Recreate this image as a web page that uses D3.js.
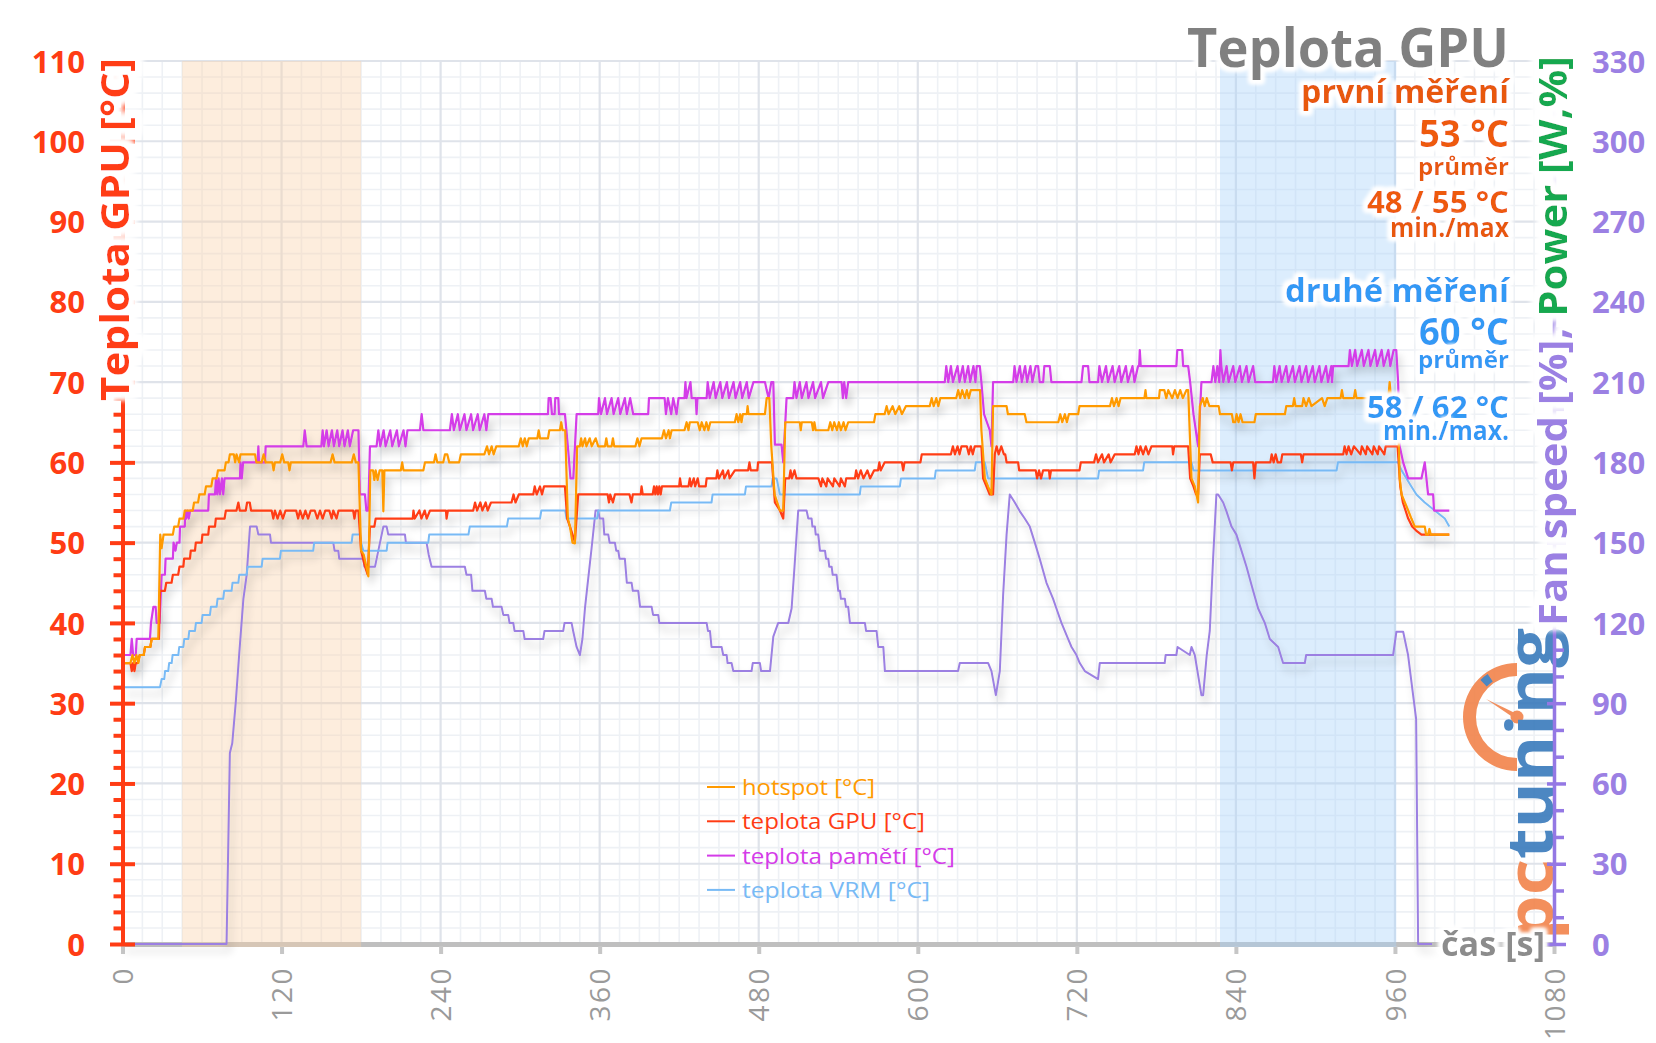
<!DOCTYPE html>
<html><head><meta charset="utf-8">
<script src="https://cdn.jsdelivr.net/npm/d3@7"></script>
<style>
body{margin:0;background:#fff}
svg{display:block}
text{font-family:"Open Sans","Noto Sans",sans-serif}
</style>
</head><body>
<svg id="c" width="1656" height="1043"></svg>
<script>
// ---------------- DATA ----------------
const xTicks = [0,120,240,360,480,600,720,840,960,1080];
const leftTicks = [0,10,20,30,40,50,60,70,80,90,100,110];
const rightTicks = [0,30,60,90,120,150,180,210,240,270,300,330];
const bandFirst = [45,180];
const bandSecond = [828,961];
const seriesNames = ["hotspot [°C]","teplota GPU [°C]","teplota pamětí [°C]","teplota VRM [°C]"];

const hotspot = [[0,35],[6,35],[7.5,36],[9,35],[10.5,36],[12,35],[13,36],[16,36],[17,37],[21,37],[22,38],[27,38],[28.5,51],[29.5,49.3],[31,51],[38,51],[39,52],[42,52],[43,53],[46,53],[47,54],[53,54],[54,55],[57,55],[58,56],[62,56],[63,57],[67,57],[68,58],[71,58],[72,59],[77,59],[78,60],[80,60],[81,61],[84,61],[85,60],[86,61],[88,60],[89,61],[100,61],[101,60],[105,60],[106.5,61],[108,60],[113,60],[114,59],[115,60],[119,60],[120.5,61],[122,60],[125,60],[126,59],[127,60],[157,60],[158.5,61],[160,60],[173,60],[174.5,61],[176,60],[178,60],[180,49],[182,48.5],[184,47],[185.5,45.8],[187,59],[189,59],[190,57.8],[191,59],[192.5,57.8],[194,59],[196,59],[196.8,53.9],[197.6,59],[210,59],[211,60],[212,59],[227,59],[228.2,60],[235,60],[236.2,61],[237.5,60],[242,60],[243.3,61],[245,61],[246.5,60],[254,60],[255.3,61],[273,61],[275,62],[276.5,61],[278.5,62],[280,61],[282,62],[299,62],[300.5,63],[302,62],[303.5,63],[305,62],[306.5,63],[313,63],[314,64],[315,63],[321,63],[322,64],[330,64],[331,65],[332,64],[334,64],[336,53],[337.6,52],[339.5,50],[341.3,49.9],[343,62],[345,62],[346,63],[347,62],[349,63],[350,62],[352.5,63],[354,62],[357,63],[358.9,62],[364,62],[365,63],[366,62],[369,62],[370,63],[371,62],[387,62],[388.5,63],[390,62],[391.6,63],[407,63],[408.5,64],[410,63],[412,64],[413,63],[414.3,64],[424,64],[425.6,65],[427,64],[428,65],[434,65],[435.5,64],[437,65],[439,64],[440.5,65],[442,64],[443.5,65],[462,65],[463.3,66],[464.6,65],[466,66],[467,65],[468,66],[471,66],[471.6,67],[472.3,66],[484.7,66],[486,68],[488,68],[489.5,62],[492,56],[494,55],[496,54],[498.5,54],[500,65],[511,65],[511.7,64],[512.5,65],[520,65],[521,64],[522,65],[523,64],[532.5,64],[534,65],[535.5,64],[537,65],[539,64],[540.5,65],[542,64],[544,65],[545.5,64],[547.5,65],[567,65],[568,66],[575,66],[576.5,67],[578,66],[581,67],[583,66],[586,67],[588,66],[591,67],[609,67],[610.5,68],[612,67],[614,68],[615.5,67],[617,68],[629,68],[630.5,69],[632,68],[633.5,69],[635.5,68],[637,69],[638.5,68],[640,69],[647,69],[648,64],[650.6,58],[653,57],[655.6,56],[656.8,67],[667,67],[668,66],[680.7,66],[682,65],[706,65],[707.5,66],[709,65],[711,66],[712.5,65],[714,66],[721,66],[722,67],[745,67],[746.5,68],[748,67],[750,68],[751.5,67],[753,68],[771,68],[771.8,69],[772.5,68],[782,68],[782.6,69],[786,69],[787.5,68],[789,69],[792,68],[794,69],[796,68],[798,69],[800,68],[802.7,69],[804,69],[806.5,58],[809,57],[811.5,55],[812.8,67],[815,68],[816.5,67],[818,68],[820,67],[827,67],[828,66],[837,66],[838,65],[839.5,65],[840.5,66],[842,65],[843.5,66],[845,65],[854,65],[855,66],[877,66],[878,67],[883,67],[884,68],[885,67],[890,67],[891,68],[893,67],[895,68],[897,67],[905,68],[907,67],[909,68],[919,68],[920,69],[921,68],[929,68],[930,69],[931,68],[955,68],[956,70],[957,68],[962,68],[963.6,58],[965,56],[970,54],[972.4,53],[975,52],[982.5,52],[983.5,51],[985,51],[986,51.7],[987,51],[1001,51]];

const gpu = [[0,35],[6,35],[7,34],[8,35],[9,34],[10,35],[11.5,35],[13,36],[16,36],[17,37],[21,37],[22,38],[27.5,38],[28.3,44],[32,44],[33,45],[37,45],[38,46],[42,46],[43,47],[45.9,47],[46.5,48],[50.9,48],[51.5,49],[54.7,49],[55.3,50],[59.7,50],[60.3,51],[64.7,51],[65.3,52],[69.8,52],[70.4,53],[77,53],[78,54],[86,54],[87.4,55],[88.5,54],[93,54],[94,55],[96,55],[97,54],[112.5,54],[113.8,53],[115,54],[117,53],[119,54],[121,53],[123,54],[131,54],[132.5,53],[134,54],[136,53],[138,54],[140,53],[142,54],[145,54],[147,53],[149,54],[151,53],[153,54],[156,54],[157.8,53],[159,54],[161.5,53],[163,54],[174,54],[175,53],[176,54],[178,54],[180,49],[183,47],[185,46],[186.7,52],[190,52],[191,53],[219,53],[219.5,54],[220.5,53],[224,54],[225.5,53],[228,54],[229.5,53],[232,54],[244,54],[244.5,53],[245.5,54],[264.6,54],[266,55],[267.5,54],[270,55],[271.5,54],[274,55],[275.5,54],[278,55],[293.5,55],[295,56],[296.5,55],[299,56],[309.9,56],[311,57],[312.5,56],[315,57],[316.5,56],[318,57],[333.8,57],[335.5,53],[337.6,52],[341.3,50.1],[343.8,56],[366,56],[367,55],[368,56],[370,55],[371.5,56],[382.5,56],[384,55],[385,56],[391,56],[391.6,57],[392.5,56],[400,56],[401,57],[402,56],[403,57],[404,56],[405,57],[406,56],[407,57],[420,57],[420.6,58],[421.5,57],[427,57],[428,58],[429,57],[431,58],[432,57],[434,58],[435,57],[440,57],[440.7,58],[448,58],[448.8,59],[450,58],[453,59],[454,58],[457,59],[458,58],[462,59],[472,59],[473,60],[474,59],[479,59],[479.5,60],[490,60],[492.2,55],[496,54],[498.5,53],[500,58],[503,58],[504,59],[505,58],[507,59],[508.5,58],[525,58],[527,57],[528,58],[531,57],[532,58],[536,57],[537,58],[541,57],[542,58],[545,57],[546,58],[552.6,58],[553.5,59],[555,58],[557,59],[559,58],[562,59],[564,58],[567,59],[570,59],[571,60],[572,59],[575,60],[588,60],[589,59],[590,60],[602,60],[603,61],[625,61],[626.5,62],[628,61],[630,62],[631.5,61],[633,62],[637,62],[638.5,61],[640,62],[641.5,61],[643,62],[648,62],[649.3,58],[651.8,57],[654.3,56],[656.8,56],[658.1,61],[659.5,62],[661,61],[663,62],[665,61],[666,61],[667,60],[675.7,60],[676.5,59],[689,59],[690,58],[691.5,59],[693,58],[694.5,59],[699,59],[699.6,58],[700.5,59],[722,59],[723,60],[733,60],[734.5,61],[736,60],[739,61],[740.5,60],[744,61],[745.5,60],[748.6,61],[763.7,61],[765,62],[766.5,61],[768,62],[770,61],[772,62],[774,61],[776.3,62],[792,62],[792.6,61],[793.5,62],[804,62],[805.5,58],[808,57],[810,56],[811.5,56],[812.8,61],[821,61],[822.5,60],[836,60],[837,59],[838,60],[853,60],[854,58],[855,60],[866,60],[867,61],[868.5,60],[870,61],[871.5,60],[874,60],[875,61],[889,61],[890,60],[891,61],[921,61],[922,62],[923.5,61],[925,62],[927,61],[929,62],[934,61],[935,62],[938,61],[939,62],[943,61],[944,62],[947,61],[948,62],[952,61],[953,62],[962,62],[964,57],[966,55],[968,54],[970,53],[973,52],[976,51.5],[980,51],[1001,51]];

const memory = [[0,36],[6,36],[7,38],[8,36],[10,36],[10.7,38],[20.7,38],[21.5,40],[23.3,42],[25,42],[25.8,40],[28,40],[29.5,46],[32,46],[32.5,48],[38,48],[38.5,50],[40,49],[41,50],[43,50],[43.4,52],[47,52],[47.3,54],[48,53],[49,54],[50,53],[51,54],[64.7,54],[65.2,56],[69.8,56],[70.5,58],[71.5,56],[72.5,58],[73.5,56],[75,58],[76,56],[77,58],[88.6,58],[89,60],[90,58],[91,60],[102,60],[102.5,62],[103,60],[107.5,60],[108,62],[136.4,62],[137.5,64],[138.9,62],[150,62],[151,64],[152,62],[154,64],[155.5,62],[158,64],[159.5,62],[162,64],[163.5,62],[166,64],[167.5,62],[170,64],[171.5,62],[174,64],[178,64],[179.1,56],[182.9,56],[184,54],[185.4,54],[186.7,62],[191.7,62],[193,64],[194.5,62],[197,64],[198.5,62],[202,64],[203.5,62],[207,64],[208.5,62],[212,64],[213.5,62],[215,64],[224.4,64],[225.7,66],[227,64],[247,64],[248.5,66],[250,64],[253,66],[254.5,64],[258,66],[259.5,64],[263,66],[264.5,64],[268,66],[269.5,64],[273,66],[274.5,64],[276,66],[321,66],[321.5,68],[323,68],[324,66],[326,66],[326.5,68],[328.8,68],[329.3,66],[333.8,66],[336,62],[338,58],[340.1,58],[342.6,66],[358.9,66],[359.5,68],[361,66],[364,68],[365.5,66],[369,68],[370.5,66],[374,68],[375.5,66],[379,68],[380.5,66],[383,68],[385.3,66],[396.6,66],[397.2,68],[409,68],[410,66],[411.5,68],[414,66],[415.5,68],[418,66],[419.5,68],[424,68],[424.7,70],[425.5,68],[428.5,70],[429.4,68],[432.5,68],[433.1,66],[433.8,68],[440.7,68],[441.5,70],[443,68],[446,70],[447.5,68],[451,70],[452.5,68],[456,70],[457.5,68],[461,70],[462.5,68],[466,70],[467.5,68],[471,70],[472.5,68],[476,70],[484.7,70],[486,69],[487.5,68],[489.5,70],[491,70],[492.2,62.2],[497.2,62.2],[498.5,60],[501,68],[506,68],[507,70],[508.5,68],[511,70],[512.5,68],[516,70],[517.5,68],[521,70],[522.5,68],[527,70],[528.5,68],[532.5,70],[542.5,70],[543.5,68],[544.5,70],[546,68],[547.5,70],[620.4,70],[621.5,72],[623,70],[625,72],[626.5,70],[630,72],[631.5,70],[634,72],[635.5,70],[638,72],[639.5,70],[642,72],[643.5,70],[644.5,72],[646.8,72],[648,70],[650,66],[654.3,64],[655.6,62],[656.8,70],[672,70],[673,72],[674.5,70],[677,72],[678.5,70],[681,72],[682.5,70],[685,72],[686.5,70],[689,72],[690.8,72],[692,70],[694.6,70],[695.5,72],[699.6,72],[700.8,70],[723.5,70],[724.7,72],[728.5,72],[729.5,70],[736,70],[737,72],[739,70],[742,72],[743.5,70],[747,72],[748.5,70],[752,72],[753.5,70],[757,72],[758.5,70],[762,72],[763.5,70],[766.2,72],[767,72],[767.5,74],[768.2,72],[795.1,72],[795.8,74],[799.5,74],[800.2,72],[804,72],[805.5,70],[808,66],[811.5,62],[812.8,66],[814,70],[821.6,70],[823,72],[824.5,70],[826,72],[827.5,70],[828.3,74],[829,72],[830.5,70],[833,72],[834.5,70],[838,72],[839.5,70],[843,72],[844.5,70],[848,72],[849.5,70],[853,72],[854.5,70],[857.5,70],[868,70],[869,72],[870.5,70],[873,72],[874.5,70],[878,72],[879.5,70],[883,72],[884.5,70],[888,72],[889.5,70],[893,72],[894.5,70],[898,72],[899.5,70],[903,72],[904.5,70],[908,72],[909.5,70],[912,72],[912.5,70],[913.4,72],[925,72],[926,74],[927.5,72],[930,74],[931.5,72],[935,74],[936.5,72],[940,74],[941.5,72],[945,74],[946.5,72],[950,74],[951.5,72],[955,74],[956.5,72],[959,74],[961,74],[962.4,70],[963.6,62],[966.2,60],[970,58],[980,58],[982.5,60],[985,56],[988.8,56],[989.5,54],[1001,54]];

const vrm = [[0,32],[28.3,32],[29.5,33],[31.5,33],[32.1,34],[34.5,34],[35.2,35],[37.1,35],[37.8,36],[42.1,36],[42.8,37],[45.9,37],[46.6,38],[49.7,38],[50.4,39],[54.7,39],[55.4,40],[59.7,40],[60.4,41],[66,41],[66.7,42],[71,42],[71.7,43],[76,43],[76.7,44],[82.3,44],[83,45],[87.4,45],[88.1,46],[93.7,46],[94.4,47],[105,47],[105.7,48],[118.8,48],[119.5,49],[143.9,49],[144.6,50],[172.9,50],[173.6,51],[179.1,51],[180,50],[181.7,49],[199.3,49],[200,50],[230.7,50],[231.4,51],[261,51],[262,52],[290,52],[291,53],[315,53],[316,54],[334,54],[335,53],[358,53],[359,54],[413,54],[414,55],[444.4,55],[445.2,56],[469.6,56],[470.4,57],[489.7,57],[490.5,58],[493.5,58],[496,56],[556.3,56],[557,57],[586.5,57],[587.3,58],[612.8,58],[613.6,59],[643,59],[643.8,60],[650.6,60],[653,58],[736,58],[736.8,59],[770,59],[770.8,60],[806.5,60],[808,59],[916,59],[917,60],[962.4,60],[965,59],[968.7,58],[972.4,57],[976.2,56],[982.5,55],[990,54],[997.6,53],[1001,52]];

const fan = [[0,0],[78.5,0],[81,23.8],[82.8,25],[85.4,30],[88,36],[91.2,43],[93.7,46],[96.2,52],[101.2,52],[102.5,51],[111.3,51],[112,50],[159,50],[160,49],[162.8,49],[163.5,48],[181.7,48],[182.5,47],[190.5,47],[193,49],[196.8,52],[199.3,52],[200.5,51],[213.1,51],[213.8,50],[229.4,50],[231,48.5],[233.2,47],[258.3,47],[259.5,46],[263,46],[264,44],[273.4,44],[274.5,43],[278.5,43],[279.5,42],[286,42],[287.3,41],[291,41],[292,40],[294.8,40],[295.8,39],[302.4,39],[303.4,38],[317.4,38],[318.4,39],[332.5,39],[333.5,40],[338.8,40],[340,39],[342.6,37],[345.1,36],[347,38],[348.9,41.8],[351,45],[353.9,49.3],[356.9,54],[358.9,54],[360,53],[362.7,53],[363.5,51],[366.5,51],[367.5,50],[371.5,50],[372.5,49],[374,49],[375,48],[379,48],[380.5,45],[384.1,45],[385,44],[389.1,44],[390.5,42],[399.2,42],[400.3,41],[404.2,41],[405,40],[440.7,40],[441.7,39],[443.2,39],[444.4,37],[452,37],[453.2,36],[455.8,36],[456.5,35],[459.5,35],[460.8,34],[474.6,34],[475.5,35],[480.9,35],[481.8,34],[488.5,34],[491,38.3],[494.7,40],[502.3,40],[504.8,41.8],[507,47],[509.8,54],[516.1,54],[517.4,53],[519.9,53],[520.5,52],[522.4,52],[523,51],[524.9,51],[526.2,49],[530,49],[530.8,48],[532.5,48],[533.2,47],[535,47],[535.8,46],[538.7,46],[540,44],[541.3,44],[542,43],[545,43],[545.8,42],[547.5,42],[548.8,40],[560.1,40],[561,39],[568.9,39],[570.2,37],[574,37],[574.8,35],[575.2,34],[630.4,34],[631.7,35],[653.1,35],[655.6,34],[658.9,31],[661.9,34],[664.4,43.5],[667,51],[669.4,56],[673.2,55],[677,53.9],[680.7,53],[684.5,52],[688.3,50],[692,48],[697.1,45],[702.1,43],[704.6,41.8],[708.4,40],[713.4,38],[716,37],[719.7,36],[722.2,35],[726,34],[736,33],[737.3,35],[786.3,35],[787,36],[795.1,36],[796,37],[805.2,36],[806.5,37],[809,36],[812,33],[814,31],[815.3,31],[818,36],[820.3,39],[822.8,48],[825.3,56],[826.6,56],[830.4,55],[832.9,53.9],[836.7,52],[840.4,51],[844.2,49],[848,47],[853,44],[856.8,41.8],[861.8,40],[865.6,38],[871.9,37],[875.6,35],[892,35],[893,36],[958.6,36],[961.1,38.9],[966.2,38.9],[969.9,36],[973.7,31],[976,28],[977.5,0],[988,0]];

// ---------------- CHART ----------------
const W=1656,H=1043;
const svg=d3.select('#c');
const x=d3.scaleLinear().domain([0,1080]).range([122.5,1554]);
const y=d3.scaleLinear().domain([0,110]).range([944,61]);
const yR=d3.scaleLinear().domain([0,330]).range([944,61]);
const FONT='"Open Sans","Noto Sans",sans-serif';

const defs=svg.append('defs');
const sh=defs.append('filter').attr('id','shadow').attr('filterUnits','userSpaceOnUse')
  .attr('x',0).attr('y',0).attr('width',W).attr('height',H);
sh.append('feGaussianBlur').attr('in','SourceAlpha').attr('stdDeviation',4).attr('result','b');
sh.append('feOffset').attr('in','b').attr('dx',3).attr('dy',7).attr('result','o');
sh.append('feComponentTransfer').attr('in','o').attr('result','s')
  .append('feFuncA').attr('type','linear').attr('slope',0.22);
let mg=sh.append('feMerge'); mg.append('feMergeNode').attr('in','s'); mg.append('feMergeNode').attr('in','SourceGraphic');

function makeGlow(id,r,sd){
  const g=defs.append('filter').attr('id',id).attr('x','-20%').attr('y','-40%').attr('width','140%').attr('height','180%');
  g.append('feMorphology').attr('in','SourceAlpha').attr('operator','dilate').attr('radius',r).attr('result','d');
  g.append('feGaussianBlur').attr('in','d').attr('stdDeviation',sd).attr('result','bd');
  g.append('feFlood').attr('flood-color','#ffffff').attr('result','f');
  g.append('feComposite').attr('in','f').attr('in2','bd').attr('operator','in').attr('result','g');
  const m=g.append('feMerge'); m.append('feMergeNode').attr('in','g'); m.append('feMergeNode').attr('in','g');
  m.append('feMergeNode').attr('in','g'); m.append('feMergeNode').attr('in','SourceGraphic');
}
makeGlow('glow',2.5,2);
makeGlow('glowBig',6,3);

// grid
const grid=svg.append('g');
const minorY=d3.range(0,111,2).filter(v=>v%10);
const minorX=d3.range(0,1081,15).filter(t=>t%120);
grid.selectAll('.mny').data(minorY).join('line')
  .attr('x1',x(0)).attr('x2',x(1080)).attr('y1',d=>y(d)).attr('y2',d=>y(d))
  .attr('stroke','#eef1f5').attr('stroke-width',1.6);
grid.selectAll('.mnx').data(minorX).join('line')
  .attr('x1',d=>x(d)).attr('x2',d=>x(d)).attr('y1',y(110)).attr('y2',y(0))
  .attr('stroke','#eef1f5').attr('stroke-width',1.6);
grid.selectAll('.mjy').data(leftTicks.slice(1)).join('line')
  .attr('x1',x(0)).attr('x2',x(1080)).attr('y1',d=>y(d)).attr('y2',d=>y(d))
  .attr('stroke','#dfe3ea').attr('stroke-width',2.2);
grid.selectAll('.mjx').data(xTicks.slice(1)).join('line')
  .attr('x1',d=>x(d)).attr('x2',d=>x(d)).attr('y1',y(110)).attr('y2',y(0))
  .attr('stroke','#dfe3ea').attr('stroke-width',2.2);

// x axis
const gx=svg.append('g').attr('transform',`translate(0,${y(0)})`)
  .call(d3.axisBottom(x).tickValues(xTicks).tickFormat(d3.format('d')).tickSize(10).tickSizeOuter(0));
gx.select('.domain').attr('stroke','#bfbfbf').attr('stroke-width',5);
gx.selectAll('.tick line').attr('stroke','#c6c6c6').attr('stroke-width',4).attr('y1',2);
gx.selectAll('.tick text').attr('transform','rotate(-90)').attr('x',-22).attr('y',0)
  .attr('dy','0.36em').attr('text-anchor','end')
  .style('font-family',FONT).style('font-size','28px').style('letter-spacing','2.5px')
  .attr('fill','#9a9a9a');

// bands
svg.append('rect').attr('x',x(bandFirst[0])).attr('width',x(bandFirst[1])-x(bandFirst[0]))
  .attr('y',y(110)).attr('height',y(0)-y(110)+3).attr('fill','#fbd2ab').attr('opacity',0.4);
svg.append('rect').attr('x',x(bandSecond[0])).attr('width',x(bandSecond[1])-x(bandSecond[0]))
  .attr('y',y(110)).attr('height',y(0)-y(110)+3).attr('fill','#a8d2fa').attr('opacity',0.4);

// series
const line=d3.line().x(d=>x(d[0])).y(d=>y(d[1]));
const colors={hot:'#ff9a00',gpu:'#ff3c14',mem:'#d43ce8',vrm:'#78baf5',fan:'#9c80e2'};
const series=[
  {d:fan,c:colors.fan,w:2},
  {d:vrm,c:colors.vrm,w:2},
  {d:memory,c:colors.mem,w:2.2},
  {d:gpu,c:colors.gpu,w:2.2},
  {d:hotspot,c:colors.hot,w:2.2}
];
const sg=svg.append('g').attr('filter','url(#shadow)');
sg.selectAll('path').data(series).join('path')
  .attr('d',s=>line(s.d)).attr('fill','none').attr('stroke',s=>s.c)
  .attr('stroke-width',s=>s.w).attr('stroke-linejoin','round');

// pctuning logo (watermark, under the right axis)
const logo=svg.append('g').attr('opacity',0.92);
const cx=1517, cy=717;
logo.append('path').attr('transform',`translate(${cx},${cy})`)
  .attr('d',d3.arc().innerRadius(41).outerRadius(54).startAngle(Math.PI).endAngle(2*Math.PI)())
  .attr('fill','#f2864f');
logo.append('path').attr('transform',`translate(${cx},${cy})`)
  .attr('d',d3.arc().innerRadius(43).outerRadius(52).startAngle(2*Math.PI-0.78).endAngle(2*Math.PI-0.6)())
  .attr('fill','#3d7dbd');
logo.append('path').attr('d',`M${cx},${cy-3}L${cx-31},${cy-18}L${cx},${cy+3}Z`).attr('fill','#f2864f');
logo.append('circle').attr('cx',cx).attr('cy',cy).attr('r',6.5).attr('fill','#f2864f');
const lt=logo.append('text').attr('transform','translate(1553,940) rotate(-90)')
  .attr('font-size',64).attr('font-weight',700)
  .attr('textLength',312).attr('lengthAdjust','spacingAndGlyphs');
lt.append('tspan').attr('fill','#f2864f').text('pc');
lt.append('tspan').attr('fill','#3d7dbd').text('tuning');

// left axis
const gLm=svg.append('g').attr('transform',`translate(${x(0)},0)`)
  .call(d3.axisLeft(y).tickValues(minorY).tickSize(9).tickFormat('').tickSizeOuter(0));
gLm.select('.domain').remove();
gLm.selectAll('.tick line').attr('stroke','#ff3c14').attr('stroke-width',4);
const gL=svg.append('g').attr('transform',`translate(${x(0)},0)`)
  .call(d3.axisLeft(y).tickValues(leftTicks).tickSize(12.5).tickPadding(25).tickSizeOuter(0));
gL.select('.domain').attr('stroke','#ff3c14').attr('stroke-width',4);
gL.selectAll('.tick line').attr('stroke','#ff3c14').attr('stroke-width',4).attr('x1',12.5);
gL.selectAll('.tick text').attr('fill','#ff3c14').style('font-family',FONT)
  .style('font-size','31px').style('font-weight','700').attr('dy','0.36em');

// right axis
const gRm=svg.append('g').attr('transform',`translate(${x(1080)},0)`)
  .call(d3.axisRight(yR).tickValues(d3.range(0,331,10).filter(v=>v%30)).tickSize(10).tickFormat('').tickSizeOuter(0));
gRm.select('.domain').remove();
gRm.selectAll('.tick line').attr('stroke','#9478e4').attr('stroke-width',3.5);
const gR=svg.append('g').attr('transform',`translate(${x(1080)},0)`)
  .call(d3.axisRight(yR).tickValues(rightTicks).tickSize(12).tickPadding(26).tickSizeOuter(0));
gR.select('.domain').attr('stroke','#9478e4').attr('stroke-width',3.5);
gR.selectAll('.tick line').attr('stroke','#9478e4').attr('stroke-width',3.5).attr('x1',-7);
gR.selectAll('.tick text').attr('fill','#9b80e3').style('font-family',FONT)
  .style('font-size','31px').style('font-weight','700').attr('dy','0.36em');

// axis titles
svg.append('text').attr('transform','translate(129,401) rotate(-90)')
  .attr('fill','#ff3c14').attr('font-size',39).attr('font-weight',700)
  .attr('textLength',343).attr('lengthAdjust','spacingAndGlyphs').attr('filter','url(#glowBig)')
  .text('Teplota GPU [°C]');
const rt=svg.append('text').attr('transform','translate(1567,626) rotate(-90)')
  .attr('font-size',40).attr('font-weight',700)
  .attr('textLength',570).attr('lengthAdjust','spacingAndGlyphs').attr('filter','url(#glowBig)');
rt.append('tspan').attr('fill','#9b80e3').text('Fan speed [%], ');
rt.append('tspan').attr('fill','#12a84f').text('Power [W,%]');

svg.append('text').attr('x',1545).attr('y',956).attr('text-anchor','end')
  .attr('fill','#8c8c8c').attr('font-size',34).attr('font-weight',700)
  .attr('textLength',104).attr('lengthAdjust','spacingAndGlyphs').attr('filter','url(#glow)')
  .text('čas [s]');

// info block
const info=[
  {t:'Teplota GPU',y:67,s:54,c:'#808080',w:322},
  {t:'první měření',y:103,s:32,c:'#e8590c',w:208},
  {t:'53 °C',y:147,s:37,c:'#ee5a10',w:90},
  {t:'průměr',y:175,s:24,c:'#e8590c',w:91},
  {t:'48 / 55 °C',y:213,s:30,c:'#ee5a10',w:142},
  {t:'min./max',y:237,s:26,c:'#e8590c',w:119},
  {t:'druhé měření',y:302,s:33,c:'#3399f5',w:224},
  {t:'60 °C',y:345,s:37,c:'#3399f5',w:90},
  {t:'průměr',y:368,s:24,c:'#3399f5',w:91},
  {t:'58 / 62 °C',y:418,s:30,c:'#3399f5',w:142},
  {t:'min./max.',y:440,s:26,c:'#3399f5',w:126}
];
svg.append('g').selectAll('text').data(info).join('text')
  .attr('x',1509).attr('y',d=>d.y).attr('text-anchor','end')
  .attr('fill',d=>d.c).attr('font-size',d=>d.s).attr('font-weight',700)
  .attr('textLength',d=>d.w).attr('lengthAdjust','spacingAndGlyphs')
  .attr('filter','url(#glow)').text(d=>d.t);

// legend
const legColors=[colors.hot,colors.gpu,colors.mem,colors.vrm];
const legW=[133,183,213,188];
const lg=svg.append('g');
seriesNames.forEach((n,i)=>{
  const yy=787+i*34.3;
  lg.append('line').attr('x1',707).attr('x2',735).attr('y1',yy).attr('y2',yy)
    .attr('stroke',legColors[i]).attr('stroke-width',2);
  lg.append('text').attr('x',742).attr('y',yy+8).attr('fill',legColors[i])
    .attr('font-size',22).attr('textLength',legW[i]).attr('lengthAdjust','spacingAndGlyphs').text(n);
});
</script>
</body></html>
